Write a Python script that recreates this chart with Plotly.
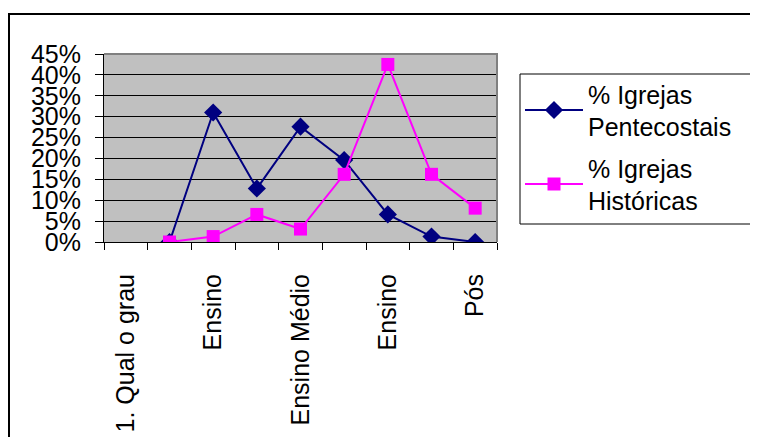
import plotly.graph_objects as go

categories_pos = [0, 1, 2, 3, 4, 5, 6, 7, 8]
tick_labels = ["1. Qual o grau", "Ensino", "Ensino Médio", "Ensino", "Pós"]
tick_positions = [0, 2, 4, 6, 8]
pentecostais = [None, 0, 31.0, 12.8, 27.6, 19.6, 6.6, 1.3, 0]
historicas = [None, 0, 1.3, 6.6, 3.1, 16.2, 42.5, 16.2, 8.1]
y_ticks = [0, 5, 10, 15, 20, 25, 30, 35, 40, 45]

FONT = "Liberation Sans, Arial, sans-serif"

fig = go.Figure()
fig.add_trace(go.Scatter(
    x=categories_pos, y=pentecostais, mode="lines+markers",
    name="% Igrejas<br>Pentecostais", legendgroup="p",
    line=dict(color="#000080", width=2),
    marker=dict(symbol="diamond", size=14, color="#000080"),
))
fig.add_trace(go.Scatter(
    x=categories_pos, y=historicas, mode="lines+markers",
    name="% Igrejas<br>Históricas", legendgroup="h",
    line=dict(color="#FF00FF", width=2),
    marker=dict(symbol="square", size=13, color="#FF00FF"),
))

OFF = 8  # page body margin
L, R, T, B = 104, 497, 54, 242   # plot area in screen pixels
W, H = 758 - OFF, 445 - 2 * OFF
pw, ph = R - L, B - T

def px(x):
    return (x - L) / pw

def py(y):
    return (B - y) / ph

fig.update_layout(
    width=W, height=H,
    margin=dict(l=L - OFF, r=W - (R - OFF), t=T - OFF, b=H - (B - OFF), pad=0),
    paper_bgcolor="white",
    plot_bgcolor="#C0C0C0",
    font=dict(family=FONT, size=25, color="black"),
    showlegend=True,
    legend=dict(
        x=px(520), y=py(71), xanchor="left", yanchor="top",
        borderwidth=0, bgcolor="rgba(0,0,0,0)",
        font=dict(family=FONT, size=25, color="black"),
        traceorder="grouped", tracegroupgap=6, itemwidth=58,
    ),
    xaxis=dict(
        range=[-0.5, 8.5], automargin=False,
        tickmode="array", tickvals=tick_positions, ticktext=tick_labels,
        tickangle=-90, ticks="", showgrid=False, zeroline=False,
        showline=True, linecolor="black", linewidth=1,
        tickfont=dict(family=FONT, size=25, color="black"),
        minor=dict(tickvals=[i - 0.5 for i in range(10)], ticks="outside",
                   ticklen=7, tickcolor="black", tickwidth=1, showgrid=False),
        ticklabelstandoff=21,
    ),
    yaxis=dict(
        range=[0, 45], automargin=False,
        tickmode="array", tickvals=y_ticks,
        ticktext=[f"{v}%" for v in y_ticks],
        showgrid=True, gridcolor="black", gridwidth=1,
        zeroline=False, showline=True, linecolor="black", linewidth=1,
        ticks="outside", ticklen=8, tickcolor="black",
        tickfont=dict(family=FONT, size=25, color="black"),
        ticklabelstandoff=9,
    ),
    shapes=[
        dict(type="path", xref="paper", yref="paper",
             path="M 0,1 L 1,1 L 1,0", line=dict(color="#808080", width=2),
             layer="above"),
        dict(type="rect", xref="paper", yref="paper",
             x0=px(520), x1=px(756.5), y0=py(74), y1=py(224),
             line=dict(color="black", width=1), fillcolor="white",
             layer="above"),
        dict(type="rect", xref="paper", yref="paper",
             x0=px(9), x1=px(780), y0=py(14), y1=py(480),
             line=dict(color="black", width=2), layer="above"),
    ],
)

fig.write_html("out.html")
